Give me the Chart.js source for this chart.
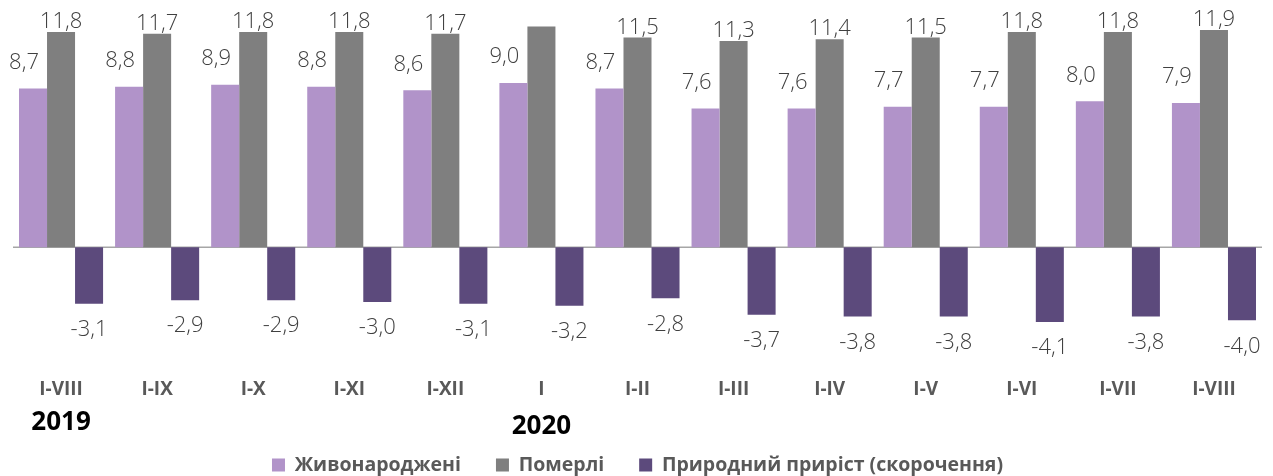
<!DOCTYPE html>
<html lang="uk">
<head>
<meta charset="utf-8">
<title>Природний рух населення</title>
<script src="https://cdn.jsdelivr.net/npm/chart.js@4/dist/chart.umd.min.js"></script>
<style>
    html, body { margin: 0; padding: 0; background: #ffffff; }
    #wrap { width: 1273px; height: 476px; position: relative; }
</style>
</head>
<body>
<div id="wrap"><canvas id="chart"></canvas></div>
<script>
const categories = ['I-VIII', 'I-IX', 'I-X', 'I-XI', 'I-XII', 'I', 'I-II', 'I-III', 'I-IV', 'I-V', 'I-VI', 'I-VII', 'I-VIII'];
const births = [8.7, 8.8, 8.9, 8.8, 8.6, 9.0, 8.7, 7.6, 7.6, 7.7, 7.7, 8.0, 7.9];
const deaths = [11.8, 11.7, 11.8, 11.8, 11.7, 12.1, 11.5, 11.3, 11.4, 11.5, 11.8, 11.8, 11.9];
const naturalChange = [-3.1, -2.9, -2.9, -3.0, -3.1, -3.2, -2.8, -3.7, -3.8, -3.8, -4.1, -3.8, -4.0];
const seriesNames = ['Живонароджені', 'Померлі', 'Природний приріст (скорочення)'];
const years = ['2019', '2020'];
const yearCategory = [0, 5];
// label of deaths in January is not shown on the original
const hiddenDeathLabels = [5];

const colors = ['#b193c9', '#7f7f7f', '#5c4a7c'];
const labelFont = '300 22px "Open Sans", sans-serif';

const fmt = v => v.toFixed(1).replace('.', ',');

// draws the value labels, the zero line and the year captions
const barLabels = {
    id: 'barLabels',
    beforeDatasetsDraw(chart) {
        const { ctx, chartArea, scales } = chart;
        const y0 = scales.y.getPixelForValue(0);
        ctx.save();
        ctx.strokeStyle = '#a6a6a6';
        ctx.lineWidth = 1.5;
        ctx.beginPath();
        ctx.moveTo(chartArea.left, y0);
        ctx.lineTo(chartArea.right, y0);
        ctx.stroke();
        ctx.restore();
    },
    afterDatasetsDraw(chart) {
        const { ctx } = chart;
        ctx.save();
        ctx.font = labelFont;
        ctx.fillStyle = '#404040';
        ctx.textAlign = 'center';
        ctx.textBaseline = 'middle';
        chart.data.datasets.forEach((ds, di) => {
            chart.getDatasetMeta(di).data.forEach((bar, i) => {
                const v = ds.data[i];
                if (di === 1 && hiddenDeathLabels.includes(i)) return;
                let x = bar.x, y;
                if (di === 0) {
                    x -= 9;
                    y = bar.y - 26;
                } else if (di === 1) {
                    y = bar.y - 10;
                } else {
                    y = bar.y + 26;
                }
                ctx.fillText(fmt(v), x, y);
            });
        });
        ctx.restore();
    },
    afterDraw(chart) {
        const { ctx, chartArea, scales } = chart;
        ctx.save();
        ctx.font = 'bold 26px "Open Sans", sans-serif';
        ctx.fillStyle = '#000000';
        ctx.textAlign = 'center';
        ctx.textBaseline = 'middle';
        years.forEach((yr, k) => {
            const x = scales.x.getPixelForValue(yearCategory[k]);
            ctx.fillText(yr, x, chartArea.bottom + 66 + k * 4);
        });
        ctx.restore();
    }
};

new Chart(document.getElementById('chart'), {
    type: 'bar',
    data: {
        labels: categories,
        datasets: [
            { label: seriesNames[0], data: births, backgroundColor: colors[0] },
            { label: seriesNames[1], data: deaths, backgroundColor: colors[1] },
            { label: seriesNames[2], data: naturalChange, backgroundColor: colors[2] },
        ]
    },
    options: {
        responsive: true,
        maintainAspectRatio: false,
        animation: false,
        categoryPercentage: 0.875,
        barPercentage: 1.0,
        layout: {
            padding: { left: 13, right: 11, top: 10, bottom: -8.75 }
        },
        plugins: {
            tooltip: { enabled: false },
            legend: {
                position: 'bottom',
                labels: {
                    boxWidth: 13,
                    boxHeight: 13,
                    padding: 35,
                    color: '#595959',
                    font: { family: '"Open Sans", sans-serif', size: 19.5, weight: 'bold' }
                }
            }
        },
        scales: {
            x: {
                grid: { display: false, drawTicks: false },
                border: { display: false },
                ticks: {
                    padding: 21,
                    color: '#595959',
                    font: { family: '"Open Sans", sans-serif', size: 19, weight: 'bold' }
                },
                afterFit(scale) { scale.height = 63.5; }
            },
            y: {
                display: false,
                min: -6,
                max: 13
            }
        }
    },
    plugins: [barLabels]
});
</script>
</body>
</html>
